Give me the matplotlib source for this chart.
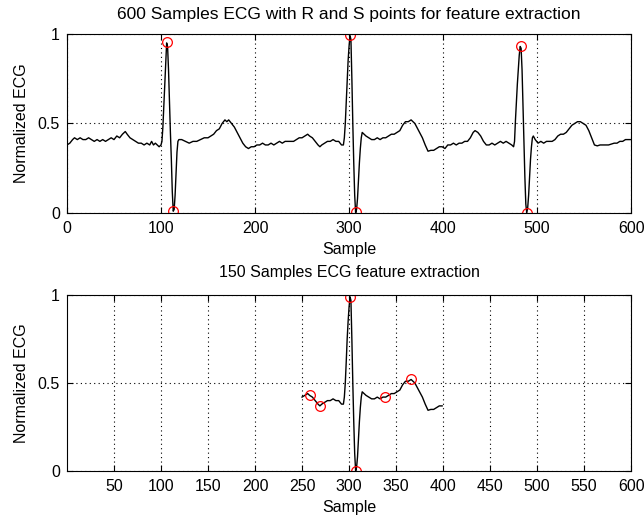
import matplotlib
matplotlib.use("Agg")
import matplotlib.pyplot as plt
import numpy as np

plt.rcParams['font.family'] = ['Liberation Sans', 'DejaVu Sans']

# ECG trace (sample index, normalized amplitude)
ecg_x = [0, 3, 6, 8, 11, 14, 17, 20, 23, 26, 29, 32, 35, 38, 41, 44, 47, 50, 53, 56,
         59, 62, 64, 67, 70, 73, 76, 79, 82, 85, 88, 90, 92, 94, 96, 98, 100,
         101, 102, 103, 104, 105, 106, 107, 108, 109, 110, 111, 112, 113, 114, 115, 116, 117,
         118, 119, 122, 126, 130, 134, 138, 142, 146, 150, 153, 156, 159, 162, 165, 168, 170,
         172, 175, 178, 181, 184, 187, 190, 193, 196, 199, 202, 205, 208, 211, 214, 217, 220,
         223, 226, 229, 232, 235, 238, 241, 244, 247, 250, 253, 256, 258, 261, 264, 267, 269,
         271, 274, 277, 280, 283, 286, 289, 292, 294, 295, 296, 297, 298, 299, 300, 301, 302,
         303, 304, 305, 306, 307, 308, 309, 310, 311, 312, 313, 314, 316, 318, 321, 324, 327,
         330, 333, 336, 339, 342, 345, 348, 351, 354, 357, 360, 363, 366, 368, 370, 372, 375,
         378, 381, 384, 387, 390, 393, 396, 399, 402, 405, 408, 411, 414, 417, 420, 423, 426,
         429, 432, 434, 437, 440, 443, 446, 449, 452, 455, 458, 461, 464, 467, 470, 473, 475,
         476, 477, 478, 479, 480, 481, 482, 483, 484, 485, 486, 487, 488, 489, 490, 491, 492,
         493, 494, 495, 496, 498, 501, 504, 507, 510, 513, 516, 519, 522, 525, 528, 531, 534,
         537, 540, 543, 546, 549, 552, 555, 558, 561, 564, 567, 570, 573, 576, 579, 582, 585,
         588, 591, 594, 597, 600]
ecg_y = [0.38, 0.39, 0.41, 0.42, 0.41, 0.42, 0.41, 0.41, 0.42, 0.41, 0.40, 0.41, 0.40, 0.41, 0.40, 0.41, 0.42, 0.41, 0.43, 0.42,
         0.44, 0.455, 0.44, 0.42, 0.41, 0.40, 0.39, 0.39, 0.38, 0.39, 0.38, 0.40, 0.38, 0.39, 0.38, 0.37, 0.38,
         0.40, 0.48, 0.60, 0.72, 0.84, 0.95, 0.93, 0.80, 0.62, 0.45, 0.30, 0.12, 0.01, 0.02, 0.10, 0.22, 0.34,
         0.40, 0.41, 0.41, 0.40, 0.39, 0.40, 0.40, 0.41, 0.42, 0.42, 0.43, 0.44, 0.46, 0.47, 0.50, 0.52, 0.51,
         0.52, 0.50, 0.48, 0.45, 0.42, 0.39, 0.37, 0.36, 0.37, 0.37, 0.38, 0.38, 0.39, 0.38, 0.38, 0.39, 0.38,
         0.39, 0.40, 0.39, 0.40, 0.40, 0.40, 0.40, 0.41, 0.42, 0.42, 0.43, 0.44, 0.43, 0.42, 0.40, 0.38, 0.37,
         0.38, 0.39, 0.40, 0.40, 0.41, 0.40, 0.40, 0.38, 0.38, 0.42, 0.50, 0.62, 0.75, 0.85, 0.93, 0.99, 0.97,
         0.75, 0.50, 0.28, 0.10, 0.00, 0.02, 0.08, 0.18, 0.28, 0.36, 0.42, 0.45, 0.44, 0.43, 0.42, 0.41, 0.41,
         0.42, 0.41, 0.42, 0.42, 0.43, 0.44, 0.44, 0.45, 0.46, 0.49, 0.51, 0.51, 0.52, 0.51, 0.50, 0.48, 0.45,
         0.42, 0.38, 0.345, 0.35, 0.35, 0.36, 0.37, 0.37, 0.36, 0.38, 0.38, 0.39, 0.38, 0.39, 0.39, 0.40, 0.40,
         0.42, 0.45, 0.46, 0.45, 0.43, 0.40, 0.38, 0.38, 0.39, 0.38, 0.39, 0.40, 0.39, 0.40, 0.39, 0.38, 0.37,
         0.40, 0.52, 0.62, 0.72, 0.80, 0.88, 0.93, 0.92, 0.80, 0.60, 0.40, 0.20, 0.05, 0.00, 0.03, 0.10, 0.20,
         0.30, 0.37, 0.42, 0.43, 0.41, 0.39, 0.40, 0.39, 0.40, 0.40, 0.40, 0.41, 0.43, 0.44, 0.44, 0.45, 0.47,
         0.49, 0.50, 0.51, 0.51, 0.50, 0.49, 0.46, 0.42, 0.38, 0.375, 0.38, 0.38, 0.38, 0.38, 0.385, 0.39, 0.39,
         0.40, 0.40, 0.41, 0.41, 0.41]

# R and S points (top)
rs_x = [106, 113, 301, 307, 483, 489]
rs_y = [0.955, 0.01, 0.995, 0.005, 0.935, 0.0]

# feature points (bottom)
feat_x = [258, 269, 301, 307, 338, 366]
feat_y = [0.43, 0.37, 0.99, 0.0, 0.42, 0.525]

win_start, win_end = 250, 400

top_xticks = [0, 100, 200, 300, 400, 500, 600]
bot_xticks = [50, 100, 150, 200, 250, 300, 350, 400, 450, 500, 550, 600]
yticks = [0, 0.5, 1]

fig = plt.figure(figsize=(6.44, 5.19), dpi=100)
ax1 = fig.add_axes([0.104, 0.5896, 0.876, 0.345])
ax2 = fig.add_axes([0.104, 0.0925, 0.876, 0.339])

fs = 11.5

def style(ax, xticks):
    ax.set_xlim(0, 600)
    ax.set_ylim(0, 1)
    ax.set_xticks(xticks)
    ax.set_yticks(yticks)
    ax.set_yticklabels(['0', '0.5', '1'])
    ax.grid(True, color='black', linestyle=(0, (1, 3)), linewidth=0.8)
    ax.tick_params(direction='in', length=4, labelsize=fs, top=True, right=True,
                   labeltop=False, labelright=False, width=0.8)
    ax.tick_params(axis='x', pad=6)
    ax.tick_params(axis='y', pad=5)
    for s in ax.spines.values():
        s.set_linewidth(0.8)
    ax.set_xlabel('Sample', fontsize=fs, labelpad=4)
    ax.set_ylabel('Normalized ECG', fontsize=fs, labelpad=6)

ex = np.array(ecg_x)
ey = np.array(ecg_y)

ax1.plot(ex, ey, color='black', linewidth=1.0)
ax1.plot(rs_x, rs_y, 'o', markersize=7, markerfacecolor='none', markeredgecolor='red', markeredgewidth=0.9)
style(ax1, top_xticks)
ax1.set_title('600 Samples ECG with R and S points for feature extraction', fontsize=12.5, pad=11)

m = (ex >= win_start) & (ex <= win_end)
ax2.plot(ex[m], ey[m], color='black', linewidth=1.0)
ax2.plot(feat_x, feat_y, 'o', markersize=7, markerfacecolor='none', markeredgecolor='red', markeredgewidth=0.9)
style(ax2, bot_xticks)
ax2.set_title('150 Samples ECG feature extraction', fontsize=fs, pad=13)

fig.savefig('out.png', dpi=100)
